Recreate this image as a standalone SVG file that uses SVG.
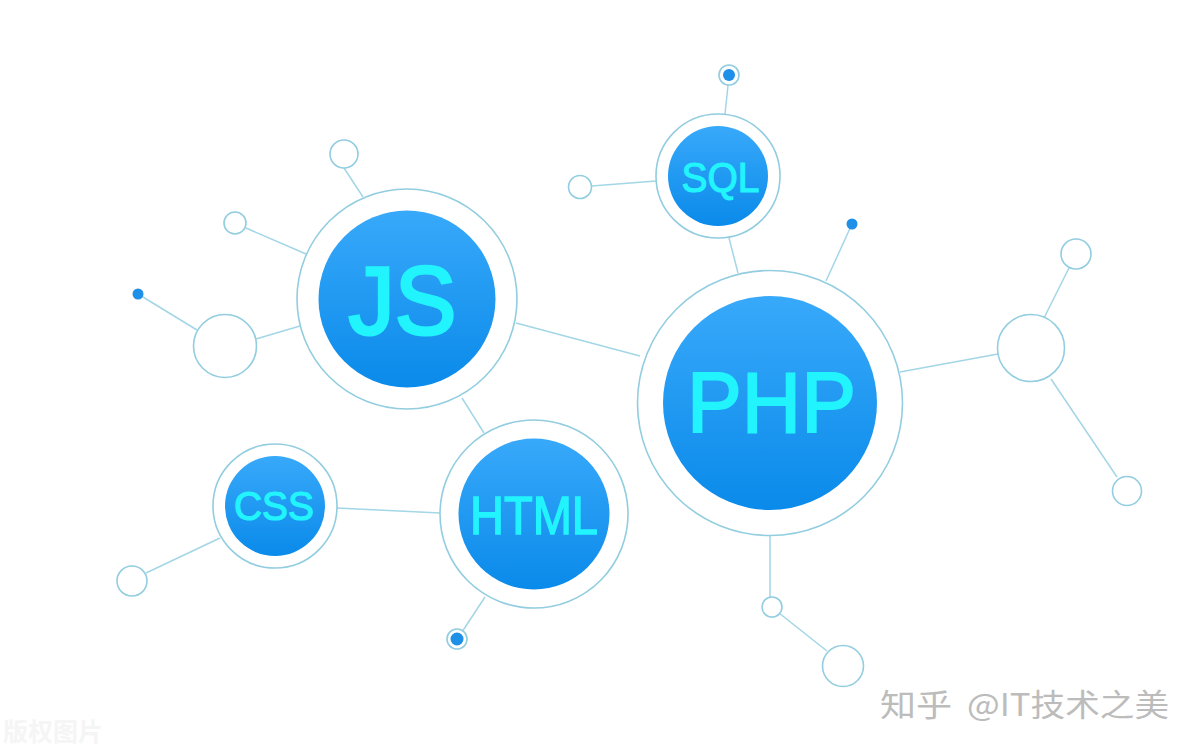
<svg xmlns="http://www.w3.org/2000/svg" width="1200" height="752" viewBox="0 0 1200 752">
<style>
.l{stroke:#a3d6e6;stroke-width:1.500;fill:none}
.r{fill:#fff;stroke:#92cde0;stroke-width:1.600}
.d{fill:#1e90e8}
.t{fill:#22f4fd;stroke:#22f4fd;font-family:"Liberation Sans",Arial,sans-serif;text-anchor:middle}
.w{font-family:"Noto Sans CJK SC",sans-serif}
</style>
<defs>
<linearGradient id="g" x1="0" y1="0" x2="0" y2="1"><stop offset="0" stop-color="#38a9fa"/><stop offset="1" stop-color="#0a8aea"/></linearGradient>
</defs>
<rect width="1200" height="752" fill="#fff"/>
<g id="connectors" class="l">
<line x1="729" y1="76" x2="725" y2="114"/>
<line x1="579" y1="187" x2="656" y2="181"/>
<line x1="729" y1="238" x2="738" y2="273"/>
<line x1="852" y1="224" x2="826" y2="281"/>
<line x1="516" y1="323" x2="640" y2="356"/>
<line x1="462" y1="398" x2="484" y2="433"/>
<line x1="337" y1="508" x2="440" y2="513"/>
<line x1="220" y1="538" x2="146" y2="573"/>
<line x1="485" y1="597" x2="458" y2="638"/>
<line x1="770" y1="535" x2="770" y2="597"/>
<line x1="779" y1="613" x2="827" y2="651"/>
<line x1="900" y1="372" x2="998" y2="354"/>
<line x1="1044" y1="318" x2="1069" y2="268"/>
<line x1="1051" y1="379" x2="1117" y2="477"/>
<line x1="344" y1="168" x2="363" y2="197"/>
<line x1="246" y1="228" x2="306" y2="254"/>
<line x1="138" y1="294" x2="197" y2="330"/>
<line x1="256" y1="339" x2="300" y2="326"/>
</g>
<g id="node-js"><circle class="r" cx="407" cy="299" r="110"/><circle cx="407" cy="299" r="88.500" fill="url(#g)"/><text class="t" x="402.500" y="334" font-size="96" stroke-width="3" textLength="108" lengthAdjust="spacingAndGlyphs">JS</text></g>
<g id="node-php"><circle class="r" cx="770" cy="403" r="132.500"/><circle cx="770" cy="403" r="107" fill="url(#g)"/><text class="t" x="771.500" y="432" font-size="85" stroke-width="2" textLength="169" lengthAdjust="spacingAndGlyphs">PHP</text></g>
<g id="node-sql"><circle class="r" cx="718" cy="176" r="62"/><circle cx="718" cy="176" r="50" fill="url(#g)"/><text class="t" x="720.500" y="192" font-size="43" stroke-width="1.200" textLength="78" lengthAdjust="spacingAndGlyphs">SQL</text></g>
<g id="node-html"><circle class="r" cx="534" cy="514" r="94"/><circle cx="534" cy="514" r="75.500" fill="url(#g)"/><text class="t" x="534" y="533.500" font-size="54" stroke-width="1.500" textLength="128" lengthAdjust="spacingAndGlyphs">HTML</text></g>
<g id="node-css"><circle class="r" cx="275" cy="506" r="62"/><circle cx="275" cy="506" r="50" fill="url(#g)"/><text class="t" x="274" y="520" font-size="40" stroke-width="1.200" textLength="80" lengthAdjust="spacingAndGlyphs">CSS</text></g>
<g id="sat-sql-top"><circle class="r" cx="729" cy="75" r="10"/><circle class="d" cx="729" cy="75" r="6"/></g>
<g id="sat-sql-left"><circle class="r" cx="580" cy="187" r="11.500"/></g>
<g id="sat-php-dot"><circle class="d" cx="852" cy="224" r="5.500"/></g>
<g id="sat-js-top"><circle class="r" cx="344" cy="154" r="14"/></g>
<g id="sat-js-small"><circle class="r" cx="235" cy="223" r="11"/></g>
<g id="sat-js-dot"><circle class="d" cx="138" cy="294" r="5.500"/></g>
<g id="sat-js-large"><circle class="r" cx="225" cy="346" r="31.500"/></g>
<g id="sat-php-hub"><circle class="r" cx="1031" cy="348" r="33.500"/></g>
<g id="sat-php-hub-a"><circle class="r" cx="1076" cy="254" r="15"/></g>
<g id="sat-php-hub-b"><circle class="r" cx="1127" cy="491" r="14.500"/></g>
<g id="sat-php-bottom"><circle class="r" cx="772" cy="607" r="10"/></g>
<g id="sat-php-bottom-b"><circle class="r" cx="843" cy="666" r="20.500"/></g>
<g id="sat-css"><circle class="r" cx="132" cy="581" r="15"/></g>
<g id="sat-html"><circle class="r" cx="457" cy="639" r="10"/><circle class="d" cx="457" cy="639" r="6.500"/></g>
<text class="w" x="880" y="716" font-size="31" fill="#bcbcbc" textLength="72" lengthAdjust="spacingAndGlyphs">知乎</text>
<text class="w" x="967" y="716" font-size="31" fill="#bcbcbc" textLength="202" lengthAdjust="spacingAndGlyphs">@IT技术之美</text>
<text class="w" x="3" y="741" font-size="25" font-weight="700" fill="#f5f5f5">版权图片</text>
</svg>
